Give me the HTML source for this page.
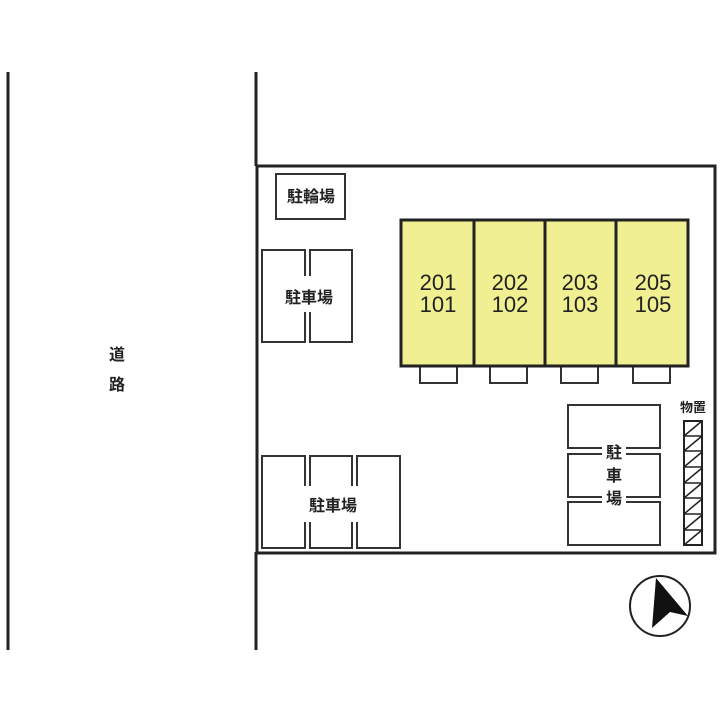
<!DOCTYPE html>
<html><head><meta charset="utf-8"><style>body{margin:0;background:#fff}</style></head><body>
<svg width="720" height="720" viewBox="0 0 720 720" xmlns="http://www.w3.org/2000/svg" font-family="Liberation Sans, Noto Sans CJK JP, sans-serif">
<rect width="720" height="720" fill="#fff"/>
<g stroke="#222" fill="none">
<line x1="8" y1="72" x2="8" y2="650" stroke-width="3"/>
<line x1="256" y1="72" x2="256" y2="166" stroke-width="3"/>
<line x1="256" y1="552" x2="256" y2="650" stroke-width="3"/>
<rect x="257" y="166" width="458" height="387" stroke-width="3"/>
<g stroke-width="2" stroke="#333">
<rect x="276" y="174" width="69" height="45"/>
<rect x="262" y="250" width="43" height="92"/>
<rect x="310" y="250" width="42" height="92"/>
<rect x="262" y="456" width="43" height="92"/>
<rect x="310" y="456" width="42" height="92"/>
<rect x="357" y="456" width="43" height="92"/>
<rect x="568" y="405" width="92" height="43"/>
<rect x="568" y="454" width="92" height="43"/>
<rect x="568" y="502" width="92" height="43"/>
<rect x="420" y="366" width="37" height="17"/>
<rect x="490" y="366" width="37" height="17"/>
<rect x="561" y="366" width="37" height="17"/>
<rect x="633" y="366" width="37" height="17"/>
</g>
</g>
<rect x="401" y="220" width="287" height="146" fill="#f0ef91" stroke="#222" stroke-width="3"/>
<g stroke="#222" stroke-width="3"><line x1="474" y1="220" x2="474" y2="366"/><line x1="545" y1="220" x2="545" y2="366"/><line x1="616" y1="220" x2="616" y2="366"/></g>
<rect x="684" y="421" width="18" height="124" fill="#fff" stroke="#222" stroke-width="2"/>
<g stroke="#222" stroke-width="1.5">
<line x1="684" y1="436" x2="702" y2="421"/><line x1="684" y1="451" x2="702" y2="436"/><line x1="684" y1="467" x2="702" y2="452"/><line x1="684" y1="483" x2="702" y2="468"/><line x1="684" y1="498" x2="702" y2="483"/><line x1="684" y1="514" x2="702" y2="499"/><line x1="684" y1="530" x2="702" y2="515"/><line x1="684" y1="545" x2="702" y2="530"/>
<line x1="684" y1="436" x2="702" y2="436"/><line x1="684" y1="451" x2="702" y2="451"/><line x1="684" y1="467" x2="702" y2="467"/><line x1="684" y1="483" x2="702" y2="483"/><line x1="684" y1="498" x2="702" y2="498"/><line x1="684" y1="514" x2="702" y2="514"/><line x1="684" y1="530" x2="702" y2="530"/>
</g>
<circle cx="660" cy="606" r="30" fill="none" stroke="#222" stroke-width="2"/>
<polygon points="656,578 652,628 670,612 688,616" fill="#111"/>
<rect x="280" y="276" width="58" height="36" fill="#fff"/>
<rect x="300" y="486" width="66" height="36" fill="#fff"/>
<rect x="602" y="440" width="24" height="72" fill="#fff"/>
<g fill="#222" font-size="16" font-weight="bold" text-anchor="middle">
<text x="311" y="202">駐輪場</text>
<text x="309" y="303">駐車場</text>
<text x="333" y="511">駐車場</text>
<text x="614" y="458">駐</text><text x="614" y="481">車</text><text x="614" y="504">場</text>
<text x="117" y="360">道</text><text x="117" y="390">路</text>
<text x="693" y="412" font-size="13">物置</text>
</g>
<g fill="#222" font-size="22" text-anchor="middle">
<text x="438" y="290">201</text><text x="438" y="312">101</text>
<text x="510" y="290">202</text><text x="510" y="312">102</text>
<text x="580" y="290">203</text><text x="580" y="312">103</text>
<text x="653" y="290">205</text><text x="653" y="312">105</text>
</g>
</svg>
</body></html>
